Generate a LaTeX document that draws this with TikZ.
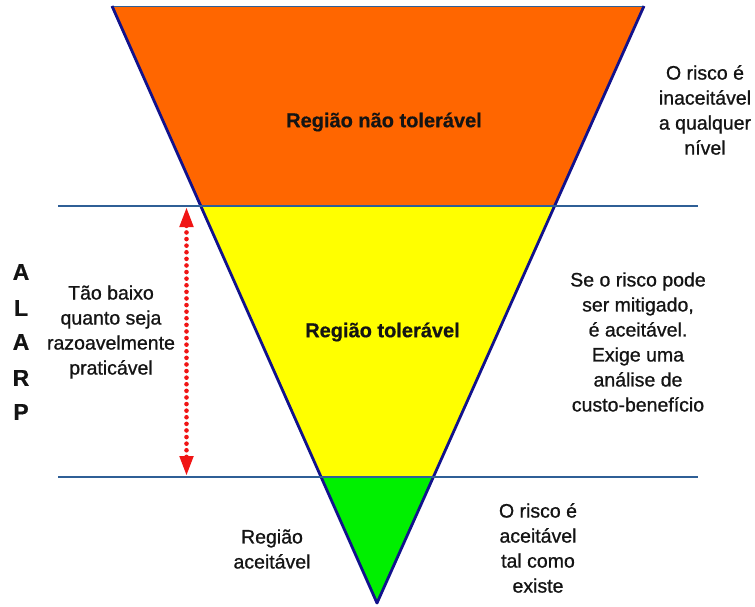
\documentclass[tikz,border=0pt]{standalone}
\usepackage{fontspec}
\setmainfont{Liberation Sans}
\newfontfamily\semib{Liberation Sans}[FakeBold=0.9]
\newfontfamily\heavyb{Liberation Sans Bold}[FakeBold=0.6]
\usetikzlibrary{arrows.meta}
\definecolor{orng}{HTML}{FF6600}
\definecolor{yel}{HTML}{FFFF00}
\definecolor{grn}{HTML}{00F000}
\definecolor{navyedge}{HTML}{12128C}
\definecolor{hline}{HTML}{2F5F96}
\definecolor{arrowred}{HTML}{F01515}
\definecolor{ink}{HTML}{141414}
\begin{document}
\begin{tikzpicture}[x=1pt,y=-1pt,
  txt/.style={font=\semib\fontsize{19.5}{25}\selectfont, text=ink, align=center, inner sep=0pt},
  ttl/.style={font=\heavyb\fontsize{20}{24}\selectfont, text=ink, inner sep=0pt},
  letter/.style={font=\heavyb\fontsize{23}{24}\selectfont, text=ink, inner sep=0pt},
  side/.style={draw=navyedge, line width=2.8pt, line join=round},
  level/.style={draw=hline, line width=2pt},
  alarp/.style={draw=arrowred, line width=4.6pt, line cap=round, dash pattern=on 0pt off 6.6pt,
    {Triangle[length=20pt,width=13pt]}-{Triangle[length=20pt,width=13pt]}}]
\useasboundingbox (0,0) rectangle (755,606);
% triangle corners
\coordinate (TL) at (112,6);
\coordinate (TR) at (644,6);
\coordinate (B) at (377,603);
\coordinate (L1) at (200.8,206);
\coordinate (R1) at (554.5,206);
\coordinate (L2) at (321.1,477);
\coordinate (R2) at (433.4,477);
% region fills
\fill[orng] (TL) -- (TR) -- (R1) -- (L1) -- cycle;
\fill[yel] (L1) -- (R1) -- (R2) -- (L2) -- cycle;
\fill[grn] (L2) -- (R2) -- (B) -- cycle;
% outline
\draw[draw=hline, line width=1pt] (TL) -- (TR);
\draw[side] (TL) -- (B) -- (TR);
% level lines
\coordinate (h1a) at (58,206);
\coordinate (h1b) at (698,206);
\coordinate (h2a) at (58,477);
\coordinate (h2b) at (698,477);
\draw[level] (h1a) -- (h1b);
\draw[level] (h2a) -- (h2b);
% ALARP arrow
\coordinate (a1) at (186.5,207);
\coordinate (a2) at (186.5,476);
\draw[alarp] (a1) -- (a2);
% titles
\node[ttl] (t1) at (384,122) {Região não tolerável};
\node[ttl] (t2) at (382.5,332) {Região tolerável};
% side texts
\node[txt] (r1) at (705,110) {O risco é\\inaceitável\\a qualquer\\nível};
\node[txt] (r2) at (638,342) {Se o risco pode\\ser mitigado,\\é aceitável.\\Exige uma\\análise de\\custo-benefício};
\node[txt] (lm) at (111,332) {Tão baixo\\quanto seja\\razoavelmente\\praticável};
\node[txt] (bl) at (272,549) {Região\\aceitável};
\node[txt] (br) at (538,548) {O risco é\\aceitável\\tal como\\existe};
% ALARP letters
\node[letter] (lA1) at (21,272) {A};
\node[letter] (lL) at (21,308) {L};
\node[letter] (lA2) at (21,342) {A};
\node[letter] (lR) at (21,378) {R};
\node[letter] (lP) at (21,412) {P};
\end{tikzpicture}
\end{document}
